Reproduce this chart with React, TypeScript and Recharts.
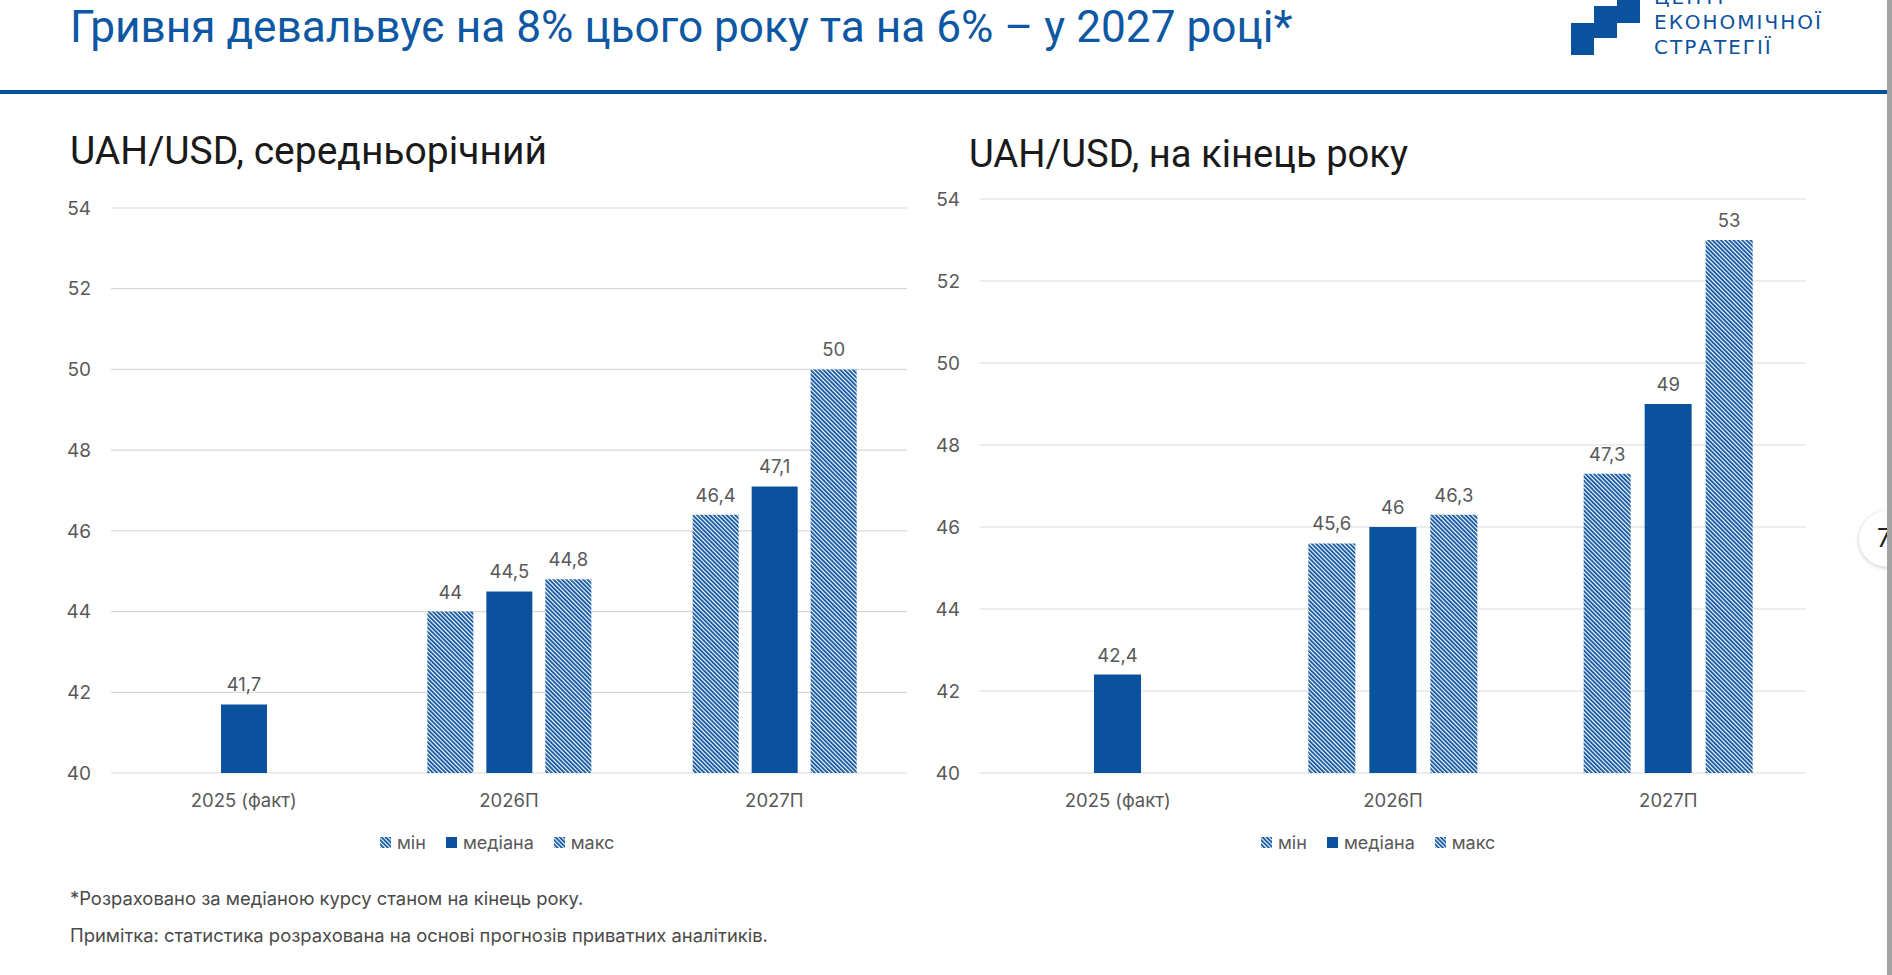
import React from 'react';
import { BarChart, Bar, XAxis, YAxis, CartesianGrid, LabelList, Legend } from 'recharts';

// Data
const categories = ['2025 (факт)', '2026П', '2027П'];
const seriesNames = ['мін', 'медіана', 'макс'];

// UAH/USD, average for the year
const avgMin = [null, 44, 46.4];
const avgMedian = [41.7, 44.5, 47.1];
const avgMax = [null, 44.8, 50];

// UAH/USD, end of year
const endMin = [null, 45.6, 47.3];
const endMedian = [42.4, 46, 49];
const endMax = [null, 46.3, 53];

const yTicks = [40, 42, 44, 46, 48, 50, 52, 54];

const BLUE = '#0b529e';
const GRID = '#d9d9d9';
const LABEL = '#595959';
const CHART_FONT = 'Inter, "Noto Sans", sans-serif';
const HEAD_FONT = 'Roboto, "Noto Sans", sans-serif';

const buildRows = (mins: (number | null)[], meds: number[], maxs: (number | null)[]) =>
  categories.map((cat, i) => ({ cat, min: mins[i], med: meds[i], max: maxs[i] }));

const avgData = buildRows(avgMin, avgMedian, avgMax);
const endData = buildRows(endMin, endMedian, endMax);

const fmt = (v: unknown) => (v == null ? '' : String(v).replace('.', ','));

// legend keeps series order (мін, медіана, макс)
const renderLegend = (props: any) => {
  const items = [...(props.payload || [])].sort(
    (a: any, b: any) => seriesNames.indexOf(a.value) - seriesNames.indexOf(b.value)
  );
  return (
    <div
      style={{
        display: 'flex',
        alignItems: 'center',
        gap: 20,
        fontFamily: CHART_FONT,
        fontSize: 18,
        color: LABEL,
        whiteSpace: 'nowrap',
      }}
    >
      {items.map((entry: any) => (
        <span key={entry.value} style={{ display: 'flex', alignItems: 'center' }}>
          <svg width={11} height={11} style={{ marginRight: 6 }}>
            <rect width={11} height={11} fill={entry.color} />
          </svg>
          {entry.value}
        </span>
      ))}
    </div>
  );
};

interface RateChartProps {
  data: { cat: string; min: number | null; med: number; max: number | null }[];
  left: number;
  marginTop: number;
  marginRight: number;
  yWidth: number;
  barSize: number;
  barGap: number;
  legendLeft: number;
}

const CHART_TOP = 180;
const CHART_W = 920;
const CHART_H = 700;
const PLOT_BOTTOM = 773 - CHART_TOP;
const X_AXIS_H = 40;

function RateChart({ data, left, marginTop, marginRight, yWidth, barSize, barGap, legendLeft }: RateChartProps) {
  const label = { fill: LABEL, fontSize: 18.5, fontFamily: CHART_FONT };
  return (
    <div style={{ position: 'absolute', left, top: CHART_TOP }}>
      <BarChart
        width={CHART_W}
        height={CHART_H}
        data={data}
        barSize={barSize}
        barGap={barGap}
        margin={{ top: marginTop, right: marginRight, bottom: CHART_H - PLOT_BOTTOM - X_AXIS_H, left: 0 }}
      >
        <CartesianGrid vertical={false} stroke={GRID} strokeWidth={1.2} />
        <XAxis
          dataKey="cat"
          height={X_AXIS_H}
          axisLine={false}
          tickLine={false}
          tickSize={0}
          tickMargin={21}
          tick={{ fill: LABEL, fontSize: 18.5, fontFamily: CHART_FONT }}
        />
        <YAxis
          width={yWidth}
          domain={[40, 54]}
          ticks={yTicks}
          interval={0}
          axisLine={false}
          tickLine={false}
          tickSize={0}
          tickMargin={20}
          tick={{ fill: LABEL, fontSize: 19, fontFamily: CHART_FONT }}
        />
        <Legend
          verticalAlign="middle"
          align="center"
          layout="horizontal"
          content={renderLegend}
          wrapperStyle={{ position: 'absolute', left: legendLeft, top: 652, width: 'auto' }}
        />
        <Bar dataKey="min" name={seriesNames[0]} fill="url(#hatch)" isAnimationActive={false}>
          <LabelList dataKey="min" position="top" offset={13} formatter={fmt} {...label} />
        </Bar>
        <Bar dataKey="med" name={seriesNames[1]} fill={BLUE} isAnimationActive={false}>
          <LabelList dataKey="med" position="top" offset={13} formatter={fmt} {...label} />
        </Bar>
        <Bar dataKey="max" name={seriesNames[2]} fill="url(#hatch)" isAnimationActive={false}>
          <LabelList dataKey="max" position="top" offset={13} formatter={fmt} {...label} />
        </Bar>
      </BarChart>
    </div>
  );
}

export default function App() {
  return (
    <div style={{ position: 'absolute', left: 0, top: 0, width: 1892, height: 975, background: '#fff', overflow: 'hidden' }}>
      {/* shared hatch pattern */}
      <svg width={0} height={0} style={{ position: 'absolute' }}>
        <defs>
          <pattern id="hatch" patternUnits="userSpaceOnUse" width={3} height={3} patternTransform="rotate(-45)">
            <rect width={3} height={3} fill="#fff" />
            <rect width={1.8} height={3} fill={BLUE} />
          </pattern>
        </defs>
      </svg>

      {/* header */}
      <div
        style={{
          position: 'absolute',
          left: 70,
          top: 5,
          fontFamily: HEAD_FONT,
          fontSize: 44.2,
          lineHeight: '44px',
          color: '#0d57a3',
          whiteSpace: 'nowrap',
        }}
      >
        Гривня девальвує на 8% цього року та на 6% – у 2027 році*
      </div>
      <svg width={80} height={60} style={{ position: 'absolute', left: 1560, top: 0 }}>
        <polygon
          points="11,55 34,55 34,38 57,38 57,23 80,23 80,0 57,0 57,6 34,6 34,23 11,23"
          fill={BLUE}
        />
      </svg>
      {['ЦЕНТР', 'ЕКОНОМІЧНОЇ', 'СТРАТЕГІЇ'].map((t, i) => (
        <div
          key={t}
          style={{
            position: 'absolute',
            left: 1654,
            top: -13 + i * 25,
            fontFamily: '"DejaVu Sans", sans-serif',
            fontSize: 20,
            lineHeight: '20px',
            letterSpacing: 2,
            color: BLUE,
            whiteSpace: 'nowrap',
          }}
        >
          {t}
        </div>
      ))}
      <div style={{ position: 'absolute', left: 0, top: 90, width: 1887, height: 3.5, background: '#0a4f9c' }} />

      {/* chart titles */}
      <div style={{ position: 'absolute', left: 70, top: 132, fontFamily: HEAD_FONT, fontSize: 39, lineHeight: '39px', color: '#1a1a1a', whiteSpace: 'nowrap' }}>
        UAH/USD, середньорічний
      </div>
      <div style={{ position: 'absolute', left: 969, top: 135, fontFamily: HEAD_FONT, fontSize: 38.2, lineHeight: '38px', color: '#1a1a1a', whiteSpace: 'nowrap' }}>
        UAH/USD, на кінець року
      </div>

      <RateChart data={avgData} left={0} marginTop={28} marginRight={13} yWidth={111} barSize={46} barGap={13} legendLeft={380} />
      <RateChart data={endData} left={900} marginTop={19} marginRight={14} yWidth={80} barSize={47} barGap={14} legendLeft={361} />

      {/* notes */}
      <div style={{ position: 'absolute', left: 70, top: 889, fontFamily: CHART_FONT, fontSize: 18.4, lineHeight: '18px', color: '#4a4a4a', whiteSpace: 'nowrap' }}>
        *Розраховано за медіаною курсу станом на кінець року.
      </div>
      <div style={{ position: 'absolute', left: 70, top: 926, fontFamily: CHART_FONT, fontSize: 18.4, lineHeight: '18px', color: '#4a4a4a', whiteSpace: 'nowrap' }}>
        Примітка: статистика розрахована на основі прогнозів приватних аналітиків.
      </div>

      {/* page number badge and right edge */}
      <div
        style={{
          position: 'absolute',
          left: 1859,
          top: 511,
          width: 56,
          height: 56,
          borderRadius: '50%',
          background: '#fff',
          boxShadow: '0 1px 4px rgba(80,100,140,0.35)',
        }}
      >
        <span style={{ position: 'absolute', left: 18, top: 15, fontFamily: CHART_FONT, fontSize: 25, lineHeight: '25px', color: '#222' }}>7</span>
      </div>
      <div style={{ position: 'absolute', left: 1887, top: 0, width: 5, height: 975, background: '#a3a3a3' }} />
    </div>
  );
}
